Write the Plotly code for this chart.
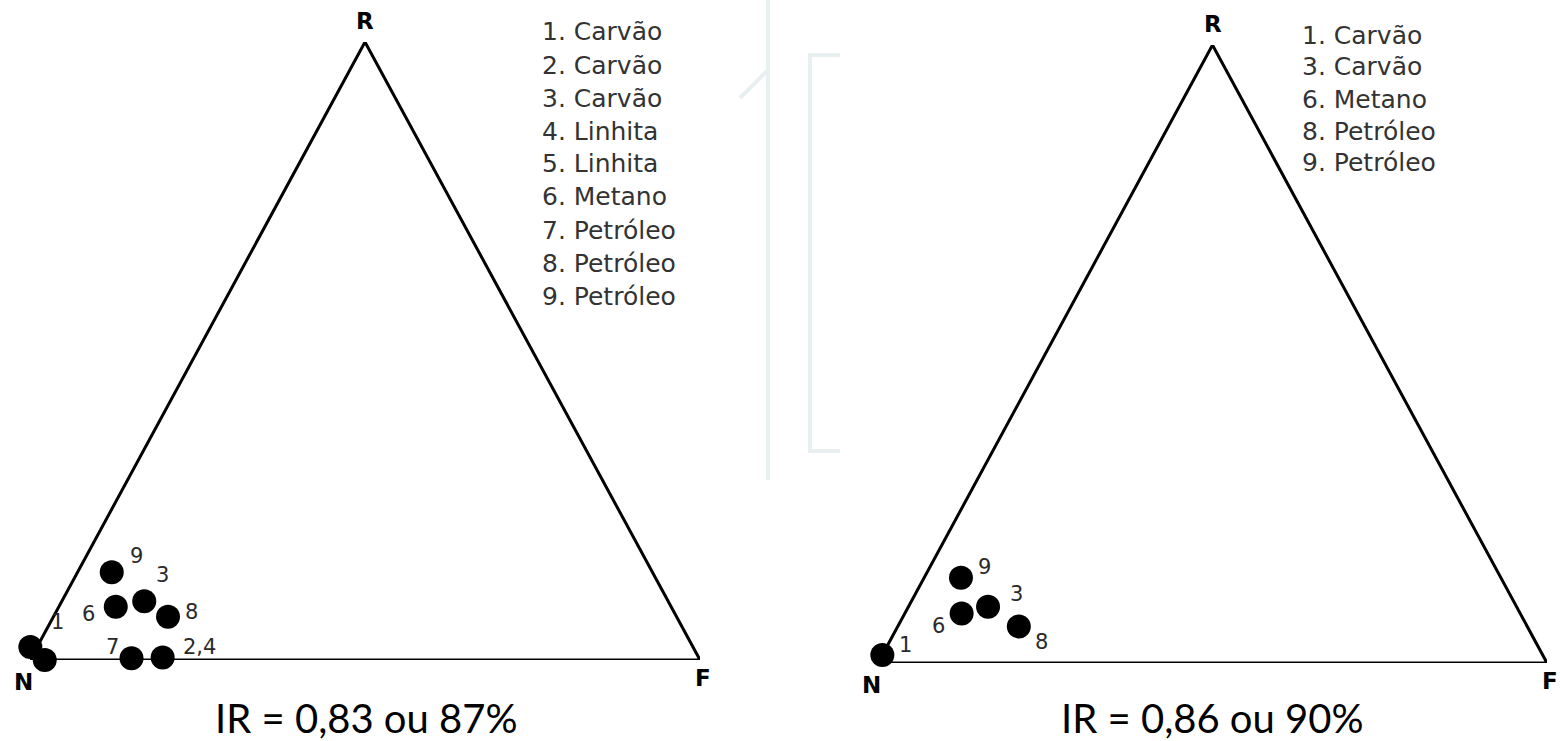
import plotly.graph_objects as go

W, H = 1560, 741

# ---------------- data ----------------
vertex_names = ["N", "F", "R"]
vertex_F = [0, 100, 0]      # % F of each vertex
vertex_R = [0, 0, 100]      # % R of each vertex

# Left diagram
left_legend_ids = ["1", "2", "3", "4", "5", "6", "7", "8", "9"]
left_legend_names = ["Carvão", "Carvão", "Carvão", "Linhita", "Linhita",
                     "Metano", "Petróleo", "Petróleo", "Petróleo"]
left_point_labels = ["1", "5", "2,4", "3", "6", "7", "8", "9"]
left_F = [-1.0, 2.2, 19.6, 12.3, 8.5, 15.0, 17.1, 5.1]
left_R = [2.1, 0.0, 0.4, 9.5, 8.6, 0.3, 7.0, 14.2]
left_caption = "IR = 0,83 ou 87%"

# Right diagram
right_legend_ids = ["1", "3", "6", "8", "9"]
right_legend_names = ["Carvão", "Carvão", "Metano", "Petróleo", "Petróleo"]
right_point_labels = ["1", "3", "6", "8", "9"]
right_F = [0.0, 11.9, 8.5, 18.1, 5.5]
right_R = [1.3, 9.1, 8.0, 5.9, 13.8]
right_caption = "IR = 0,86 ou 90%"

# ---------------- styling / layout constants ----------------
label_offsets = {
    "left": {"1": (27, -25), "5": None, "2,4": (37, -11), "3": (18, -26),
             "6": (-27, 7), "7": (-19, -11), "8": (23, -5), "9": (25, -16)},
    "right": {"1": (23, -10), "3": (28, -13), "6": (-23, 12),
              "8": (23, 15), "9": (24, -11)},
}
vertex_offsets = {"N": (-7, 22), "F": (3, 18), "R": (0, -21)}

panels = {
    # pixel frame of each triangle: base-left x, base-right x, base y, apex y
    "left": dict(x0=30, x1=700, yb=660, yt=42, legend_x=540, legend_y=32,
                 legend_dy=33, cap_x=366, cap_y=718),
    "right": dict(x0=878, x1=1547, yb=663, yt=45, legend_x=1300, legend_y=35,
                  legend_dy=32, cap_x=1212, cap_y=718),
}


def to_xy(F, R):
    """ternary (F, R) percentages -> cartesian in triangle units"""
    return [f + r / 2 for f, r in zip(F, R)], list(R)


fig = go.Figure()
annotations = []
layout_axes = {}

datasets = {
    "left": (left_F, left_R, left_point_labels, left_legend_ids,
             left_legend_names, left_caption),
    "right": (right_F, right_R, right_point_labels, right_legend_ids,
              right_legend_names, right_caption),
}

for i, (name, (F, R, plabels, lids, lnames, cap)) in enumerate(datasets.items()):
    p = panels[name]
    xa = "x" if i == 0 else f"x{i+1}"
    ya = "y" if i == 0 else f"y{i+1}"
    xkey = "xaxis" if i == 0 else f"xaxis{i+1}"
    ykey = "yaxis" if i == 0 else f"yaxis{i+1}"
    layout_axes[xkey] = dict(domain=[p["x0"] / W, p["x1"] / W], range=[0, 100],
                             visible=False, fixedrange=True)
    layout_axes[ykey] = dict(domain=[1 - p["yb"] / H, 1 - p["yt"] / H],
                             range=[0, 100], visible=False, fixedrange=True)

    # triangle frame from vertex compositions
    vx, vy = to_xy(vertex_F + vertex_F[:1], vertex_R + vertex_R[:1])
    fig.add_trace(go.Scatter(x=vx, y=vy, mode="lines", xaxis=xa, yaxis=ya,
                             line=dict(color="black", width=3),
                             hoverinfo="skip", showlegend=False,
                             cliponaxis=False))
    # data points
    px_, py_ = to_xy(F, R)
    fig.add_trace(go.Scatter(x=px_, y=py_, mode="markers", xaxis=xa, yaxis=ya,
                             marker=dict(color="black", size=24),
                             text=plabels, hoverinfo="text",
                             showlegend=False, cliponaxis=False))
    # point labels
    for xx, yy, lab in zip(px_, py_, plabels):
        off = label_offsets[name].get(lab)
        if off is None:
            continue
        annotations.append(dict(x=xx, y=yy, xref=xa, yref=ya, text=lab,
                                showarrow=False, xshift=off[0], yshift=-off[1],
                                font=dict(family="DejaVu Sans", size=21,
                                          color="#2a2a2a")))
    # vertex labels
    vxx, vyy = to_xy(vertex_F, vertex_R)
    for xx, yy, vn in zip(vxx, vyy, vertex_names):
        off = vertex_offsets[vn]
        annotations.append(dict(x=xx, y=yy, xref=xa, yref=ya,
                                text=f"<b>{vn}</b>", showarrow=False,
                                xshift=off[0], yshift=-off[1],
                                font=dict(family="DejaVu Sans", size=23,
                                          color="black")))
    # legend list
    for k, (lid, lname) in enumerate(zip(lids, lnames)):
        annotations.append(dict(x=p["legend_x"] / W,
                                y=1 - (p["legend_y"] + k * p["legend_dy"]) / H,
                                xref="paper", yref="paper", xanchor="left",
                                yanchor="middle", showarrow=False,
                                text=f"{lid}. {lname}",
                                font=dict(family="DejaVu Sans", size=25,
                                          color="#333333")))
    # caption
    annotations.append(dict(x=p["cap_x"] / W, y=1 - p["cap_y"] / H,
                            xref="paper", yref="paper", xanchor="center",
                            yanchor="middle", showarrow=False, text=cap,
                            font=dict(family="Lato", size=40, color="black")))

# faint background watermark lines
wm = "#e8eff1"
shapes = [
    dict(type="line", xref="paper", yref="paper", x0=768 / W, x1=768 / W,
         y0=1, y1=1 - 480 / H, line=dict(color=wm, width=4), layer="below"),
    dict(type="line", xref="paper", yref="paper", x0=740 / W, x1=768 / W,
         y0=1 - 98 / H, y1=1 - 70 / H, line=dict(color=wm, width=4),
         layer="below"),
    dict(type="path", xref="paper", yref="paper",
         path=f"M {840/W} {1-55/H} L {810/W} {1-55/H} L {810/W} {1-451/H} L {840/W} {1-451/H}",
         line=dict(color=wm, width=4), layer="below"),
]

fig.update_layout(width=W, height=H, margin=dict(l=0, r=0, t=0, b=0),
                  paper_bgcolor="white", plot_bgcolor="white",
                  annotations=annotations, shapes=shapes, **layout_axes)

fig.write_html(
    "out.html",
    config={"displayModeBar": False},
    post_script="document.body.style.margin='0';document.body.style.overflow='hidden';",
)
